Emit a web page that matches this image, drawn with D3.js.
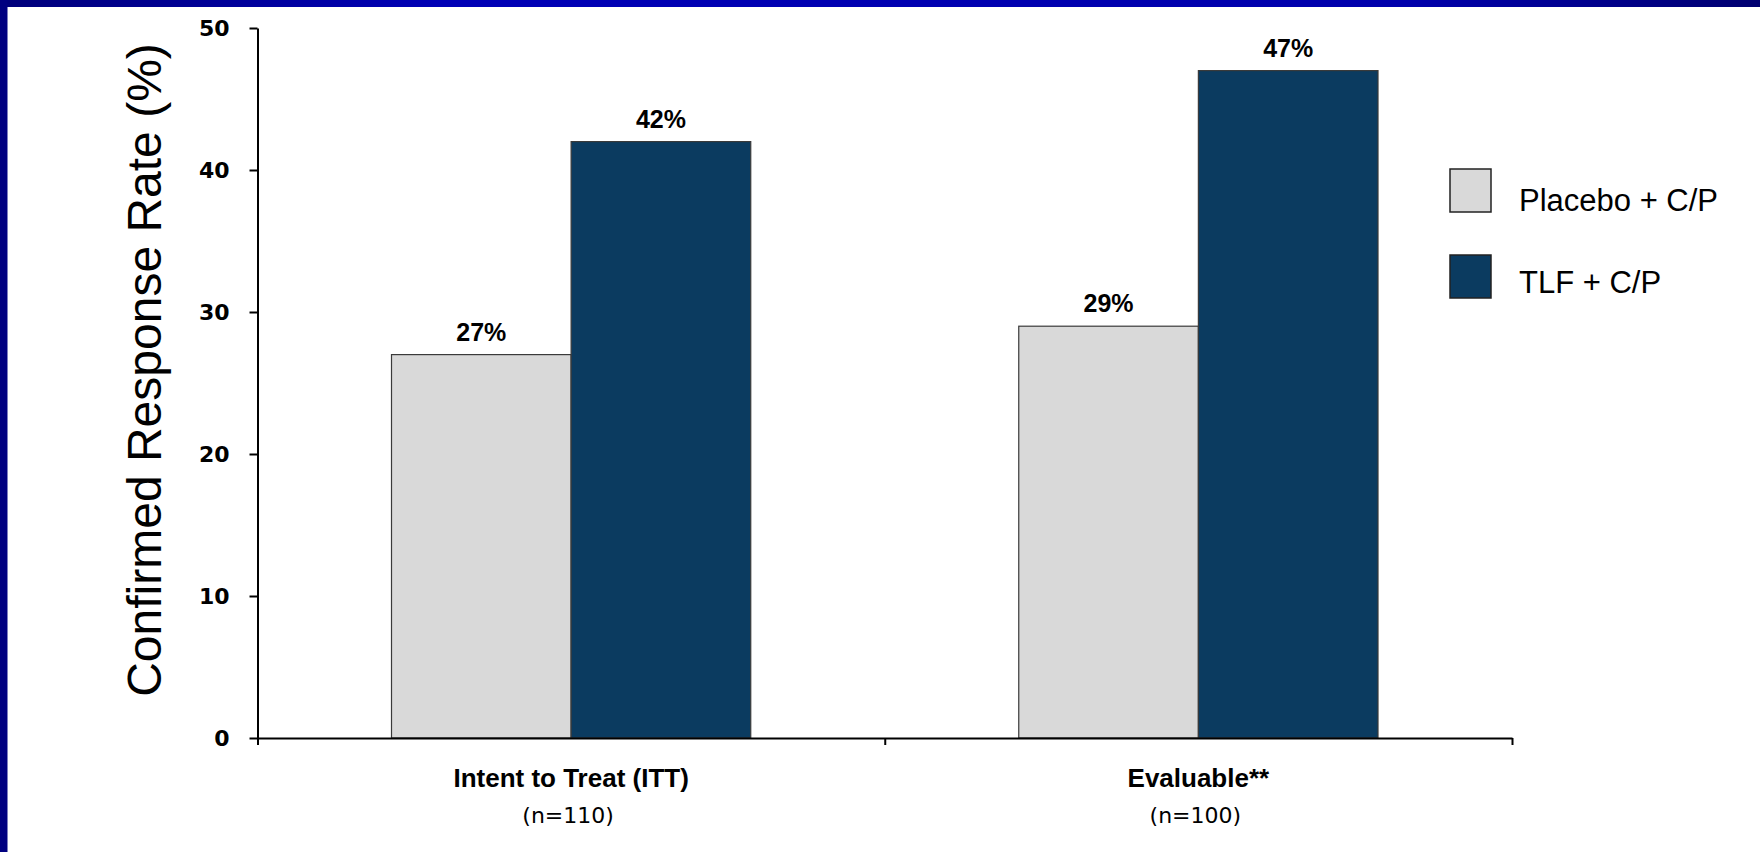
<!DOCTYPE html>
<html>
<head>
<meta charset="utf-8">
<script src="https://cdn.jsdelivr.net/npm/d3@7"></script>
<style>
  html, body { margin: 0; padding: 0; background: #ffffff; }
  svg { display: block; }
</style>
</head>
<body>
<svg id="chart" width="1760" height="852"></svg>
<script>
// Confirmed response rate by analysis population
const categories = ["Intent to Treat (ITT)", "Evaluable**"];
const sampleSizes = ["(n=110)", "(n=100)"];
const seriesNames = ["Placebo + C/P", "TLF + C/P"];
const placeboValues = [27, 29];
const tlfValues = [42, 47];
const yTicks = [0, 10, 20, 30, 40, 50];
const yTitle = "Confirmed Response Rate (%)";

const seriesColors = ["#d9d9d9", "#0b3b60"];
const seriesValues = [placeboValues, tlfValues];

const W = 1760, H = 852;
const svg = d3.select("#chart");

// Slide frame: gradient band along the top, solid band down the left
const defs = svg.append("defs");
const grad = defs.append("linearGradient").attr("id", "topBand")
  .attr("x1", "0%").attr("x2", "100%").attr("y1", "0%").attr("y2", "0%");
[[0, "#00007a"], [0.25, "#0000b6"], [0.8, "#0000ac"], [1, "#000070"]].forEach(([o, c]) =>
  grad.append("stop").attr("offset", o).attr("stop-color", c));
svg.append("rect").attr("x", 0).attr("y", 0).attr("width", W).attr("height", 7).attr("fill", "url(#topBand)");
svg.append("rect").attr("x", 0).attr("y", 0).attr("width", 7.5).attr("height", H).attr("fill", "#000080");

// Plot area
const plot = { left: 257.5, right: 1512, top: 28, bottom: 738 };

const x = d3.scaleBand().domain(categories).range([plot.left, plot.right]).paddingInner(0).paddingOuter(0);
const xs = d3.scaleBand().domain(seriesNames).range([0, x.bandwidth()]).paddingInner(0).paddingOuter(0.746);
const y = d3.scaleLinear().domain([0, 50]).range([plot.bottom, plot.top]);

// Bars
const rows = [];
categories.forEach((c, i) => seriesNames.forEach((s, j) =>
  rows.push({ cat: c, series: s, value: seriesValues[j][i], color: seriesColors[j] })));

const g = svg.append("g");
g.selectAll("rect.bar").data(rows).join("rect")
  .attr("class", "bar")
  .attr("x", d => x(d.cat) + xs(d.series))
  .attr("y", d => y(d.value))
  .attr("width", xs.bandwidth())
  .attr("height", d => y(0) - y(d.value))
  .attr("fill", d => d.color)
  .attr("stroke", "#3a3a3a")
  .attr("stroke-width", 1.2);

// Value labels
g.selectAll("text.val").data(rows).join("text")
  .attr("class", "val")
  .attr("x", d => x(d.cat) + xs(d.series) + xs.bandwidth() / 2)
  .attr("y", d => y(d.value) - 14)
  .attr("text-anchor", "middle")
  .attr("font-family", "'Liberation Sans', Arial, sans-serif")
  .attr("font-weight", "bold")
  .attr("font-size", 25)
  .attr("fill", "#000")
  .text(d => `${d.value}%`);

// Y axis
const yAxis = svg.append("g")
  .attr("transform", `translate(${plot.left},0)`)
  .call(d3.axisLeft(y).tickValues(yTicks).tickSize(8).tickSizeOuter(0).tickPadding(20));
yAxis.select(".domain").attr("stroke", "#000").attr("stroke-width", 2);
yAxis.selectAll(".tick line").attr("stroke", "#000").attr("stroke-width", 2);
yAxis.selectAll(".tick text")
  .attr("font-family", "'DejaVu Sans', Verdana, sans-serif")
  .attr("font-weight", "bold")
  .attr("font-size", 22)
  .attr("fill", "#000");

// X axis: baseline with ticks at category boundaries
const edges = d3.range(categories.length + 1).map(i => plot.left + i * x.step());
const xEdge = d3.scaleLinear().domain([plot.left, plot.right]).range([plot.left, plot.right]);
const xAxis = svg.append("g")
  .attr("transform", `translate(0,${plot.bottom})`)
  .call(d3.axisBottom(xEdge).tickValues(edges).tickSize(7).tickSizeOuter(0).tickFormat(""));
xAxis.select(".domain").attr("stroke", "#000").attr("stroke-width", 2);
xAxis.selectAll(".tick line").attr("stroke", "#000").attr("stroke-width", 2);

// Category labels
const catLabels = svg.append("g");
catLabels.selectAll("text.cat").data(categories).join("text")
  .attr("class", "cat")
  .attr("x", d => x(d) + x.bandwidth() / 2)
  .attr("y", 787)
  .attr("text-anchor", "middle")
  .attr("font-family", "'Liberation Sans', Arial, sans-serif")
  .attr("font-weight", "bold")
  .attr("font-size", 26)
  .attr("fill", "#000")
  .text(d => d);
catLabels.selectAll("text.n").data(categories).join("text")
  .attr("class", "n")
  .attr("x", d => x(d) + x.bandwidth() / 2 - 3)
  .attr("y", 823)
  .attr("text-anchor", "middle")
  .attr("font-family", "'DejaVu Sans', sans-serif")
  .attr("font-size", 22)
  .attr("fill", "#000")
  .text((d, i) => sampleSizes[i]);

// Y axis title
svg.append("text")
  .attr("transform", "translate(161,370) rotate(-90)")
  .attr("text-anchor", "middle")
  .attr("font-family", "'Liberation Sans', Arial, sans-serif")
  .attr("font-size", 48)
  .attr("fill", "#000")
  .text(yTitle);

// Legend
const legend = svg.append("g").attr("transform", "translate(1450,169)");
const item = legend.selectAll("g.item").data(seriesNames).join("g")
  .attr("class", "item")
  .attr("transform", (d, i) => `translate(0,${i * 86})`);
item.append("rect")
  .attr("width", 41).attr("height", 43)
  .attr("fill", (d, i) => seriesColors[i])
  .attr("stroke", "#222").attr("stroke-width", 1.5);
item.append("text")
  .attr("x", 69).attr("y", (d, i) => i === 0 ? 42 : 38)
  .attr("font-family", "'Liberation Sans', Arial, sans-serif")
  .attr("font-size", 31)
  .attr("fill", "#000")
  .text(d => d);
</script>
</body>
</html>
